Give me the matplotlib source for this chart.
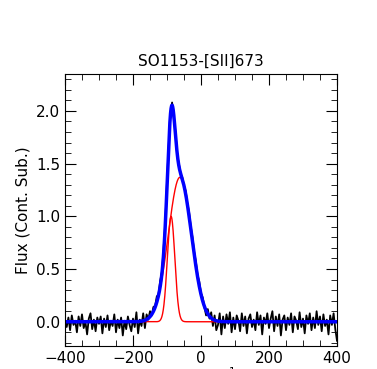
import numpy as np
import matplotlib
matplotlib.use("Agg")
import matplotlib.pyplot as plt
from matplotlib.ticker import MultipleLocator

# observed spectrum, 5 km/s channels from -400 to 400
velocity = np.arange(-400, 401, 5)
flux = [
    0.02, -0.05, 0.04, -0.08, 0.06, -0.03, 0.01, -0.10, 0.05, -0.04,
    0.07, -0.06, 0.00, -0.12, 0.03, 0.08, -0.07, 0.02, -0.09, 0.04,
    -0.02, 0.05, -0.11, 0.03, -0.05, 0.06, -0.08, 0.01, -0.04, 0.07,
    -0.10, 0.02, -0.06, 0.04, -0.13, 0.01, -0.07, 0.05, -0.03, -0.09,
    0.03, -0.05, 0.09, -0.11, 0.02, -0.04, 0.08, -0.06, 0.07, 0.02,
    0.10, 0.06, 0.14, 0.15, 0.24, 0.26, 0.39, 0.47, 0.70, 0.95,
    1.33, 1.67, 1.98, 2.08, 1.93, 1.80, 1.58, 1.50, 1.40, 1.37,
    1.29, 1.24, 1.12, 1.04, 0.90, 0.80, 0.66, 0.57, 0.44, 0.38,
    0.27, 0.23, 0.14, 0.06, 0.12, 0.03, 0.09, -0.04, 0.06, -0.08,
    -0.03, 0.08, -0.12, 0.05, -0.06, 0.07, -0.02, 0.09, -0.10, 0.04,
    -0.07, 0.06, 0.01, -0.09, 0.08, -0.04, 0.05, -0.11, 0.03, 0.07,
    -0.05, 0.02, -0.08, 0.09, -0.03, 0.06, -0.12, 0.04, -0.02, 0.08,
    -0.06, 0.03, 0.10, -0.09, 0.05, -0.04, 0.07, -0.13, 0.02, 0.06,
    -0.08, 0.04, -0.03, 0.08, -0.10, 0.05, 0.01, -0.07, 0.09, -0.05,
    0.03, -0.11, 0.06, -0.02, 0.08, -0.08, 0.04, -0.06, 0.10, -0.03,
    0.05, -0.09, 0.07, -0.04, 0.02, -0.12, 0.06, -0.03, 0.08, -0.07,
    -0.18,
]

# fitted gaussian components (amplitude, centre, sigma)
amps = [1.0, 1.37]
centres = [-88, -62]
sigmas = [11, 34]

title = "SO1153-[SII]673"

vfine = np.linspace(-400, 400, 1601)
comps = [a * np.exp(-(vfine - c) ** 2 / (2 * s ** 2)) for a, c, s in zip(amps, centres, sigmas)]
total = np.sum(comps, axis=0)

fig = plt.figure(figsize=(3.77, 3.69), dpi=100)
ax = fig.add_axes([65 / 377, 23 / 369, 272 / 377, 272 / 369])

ax.plot(velocity, flux, color="black", lw=1.3)
for comp in comps:
    ax.plot(vfine, comp, color="red", lw=1.0)
ax.plot(vfine, total, color="blue", lw=2.5)

ax.set_xlim(-400, 400)
ax.set_ylim(-0.23, 2.35)
ax.xaxis.set_major_locator(MultipleLocator(200))
ax.xaxis.set_minor_locator(MultipleLocator(50))
ax.yaxis.set_major_locator(MultipleLocator(0.5))
ax.yaxis.set_minor_locator(MultipleLocator(0.1))
ax.tick_params(which="both", direction="in", top=True, right=True, labelsize=11)
ax.tick_params(which="major", length=8)
ax.tick_params(which="minor", length=4)

ax.set_title(title, fontsize=11)
ax.set_ylabel("Flux (Cont. Sub.)", fontsize=11)
ax.set_xlabel("km s$^{-1}$", fontsize=11)
ax.xaxis.set_label_coords(0.53, -0.075)

fig.savefig("out.png", dpi=100)
